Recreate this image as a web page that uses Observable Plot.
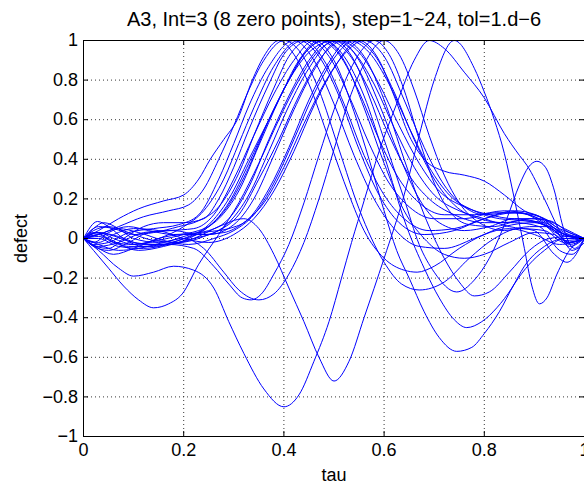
<!DOCTYPE html>
<html><head><meta charset="utf-8">
<script src="https://cdn.jsdelivr.net/npm/d3@7"></script>
<script src="https://cdn.jsdelivr.net/npm/@observablehq/plot@0.6"></script>
<style>body{margin:0;background:#fff}</style>
</head><body><div id="chart"></div>
<script>
const titleText = "A3, Int=3 (8 zero points), step=1~24, tol=1.d\u22126";
const xLabel = "tau";
const yLabel = "defect";
const xTicks = [0, 0.2, 0.4, 0.6, 0.8, 1];
const yTicks = [-1, -0.8, -0.6, -0.4, -0.2, 0, 0.2, 0.4, 0.6, 0.8, 1];

// each step: [tau, defect]
const step01 = [[0,0],[0.03,0.04],[0.07,0.1],[0.11,0.15],[0.16,0.19],[0.2,0.22],[0.23,0.3],[0.253,0.4],[0.28,0.5],[0.307,0.6],[0.337,0.8],[0.36,0.92],[0.39,1],[0.42,0.93],[0.45,0.78],[0.49,0.5],[0.53,0.22],[0.56,0.04],[0.6,-0.1],[0.64,-0.16],[0.666,-0.17],[0.7,-0.14],[0.75,-0.05],[0.8,0.02],[0.85,0.05],[0.9,0.02],[0.95,-0.03],[1,0]];
const step02 = [[0,0],[0.03,0.02],[0.07,0.06],[0.12,0.11],[0.17,0.14],[0.21,0.17],[0.24,0.25],[0.27,0.4],[0.3,0.57],[0.33,0.75],[0.36,0.9],[0.4,1],[0.43,0.95],[0.47,0.75],[0.51,0.45],[0.55,0.15],[0.6,-0.12],[0.635,-0.23],[0.67,-0.26],[0.72,-0.22],[0.77,-0.1],[0.82,0.0],[0.87,0.05],[0.92,0.04],[0.96,-0.02],[1,0]];
const step03 = [[0,0],[0.02,-0.03],[0.05,-0.02],[0.09,0.03],[0.14,0.05],[0.19,0.07],[0.23,0.12],[0.27,0.3],[0.3,0.48],[0.33,0.67],[0.37,0.87],[0.42,1],[0.46,0.9],[0.5,0.68],[0.54,0.42],[0.58,0.2],[0.62,0.05],[0.67,-0.04],[0.72,-0.05],[0.78,0.0],[0.84,0.06],[0.9,0.08],[0.95,0.03],[1,0]];
const step04 = [[0,0],[0.03,0.02],[0.06,-0.02],[0.1,-0.03],[0.15,0.0],[0.2,0.06],[0.24,0.14],[0.28,0.3],[0.31,0.48],[0.34,0.66],[0.38,0.87],[0.43,1],[0.47,0.92],[0.51,0.72],[0.55,0.45],[0.59,0.22],[0.63,0.08],[0.68,0.02],[0.74,0.04],[0.8,0.1],[0.86,0.13],[0.91,0.1],[0.96,0.02],[1,0]];
const step05 = [[0,0],[0.025,-0.04],[0.05,-0.05],[0.08,0.0],[0.12,0.06],[0.16,0.08],[0.2,0.08],[0.24,0.1],[0.27,0.2],[0.3,0.36],[0.33,0.55],[0.37,0.78],[0.4,0.93],[0.44,1],[0.48,0.9],[0.52,0.68],[0.56,0.42],[0.6,0.22],[0.64,0.1],[0.69,0.04],[0.74,0.05],[0.8,0.1],[0.86,0.14],[0.92,0.1],[0.96,0.03],[1,0]];
const step06 = [[0,0],[0.03,0.06],[0.06,0.05],[0.1,0.02],[0.14,0.03],[0.19,0.06],[0.23,0.09],[0.27,0.16],[0.31,0.33],[0.34,0.52],[0.38,0.76],[0.41,0.92],[0.45,1],[0.49,0.92],[0.53,0.72],[0.57,0.48],[0.61,0.28],[0.65,0.16],[0.7,0.1],[0.76,0.1],[0.82,0.13],[0.87,0.13],[0.92,0.07],[0.96,-0.01],[1,0]];
const step07 = [[0,0],[0.03,-0.04],[0.07,-0.02],[0.12,0.03],[0.17,0.04],[0.22,0.05],[0.26,0.12],[0.3,0.3],[0.34,0.52],[0.38,0.73],[0.42,0.9],[0.46,1],[0.5,0.9],[0.54,0.64],[0.57,0.4],[0.6,0.14],[0.625,-0.06],[0.65,-0.2],[0.68,-0.37],[0.71,-0.5],[0.745,-0.57],[0.775,-0.55],[0.8,-0.48],[0.83,-0.37],[0.86,-0.23],[0.89,-0.13],[0.92,-0.06],[0.96,0.0],[1,0]];
const step08 = [[0,0],[0.02,-0.02],[0.05,0.03],[0.09,0.06],[0.13,0.04],[0.18,0.02],[0.23,0.04],[0.27,0.1],[0.31,0.24],[0.35,0.47],[0.39,0.7],[0.43,0.9],[0.47,1],[0.51,0.93],[0.55,0.74],[0.59,0.5],[0.63,0.3],[0.67,0.18],[0.72,0.12],[0.78,0.12],[0.84,0.14],[0.89,0.12],[0.94,0.04],[0.97,-0.02],[1,0]];
const step09 = [[0,0],[0.03,0.01],[0.07,-0.03],[0.11,-0.06],[0.16,-0.04],[0.21,0.0],[0.25,0.06],[0.29,0.17],[0.33,0.36],[0.37,0.6],[0.41,0.8],[0.44,0.93],[0.48,1],[0.52,0.9],[0.56,0.66],[0.6,0.38],[0.64,0.14],[0.68,0.0],[0.72,-0.08],[0.76,-0.1],[0.8,-0.08],[0.85,-0.02],[0.9,0.03],[0.94,0.02],[0.97,-0.04],[1,0]];
const step10 = [[0,0],[0.02,0.03],[0.05,0.02],[0.1,-0.02],[0.15,-0.03],[0.2,0.0],[0.25,0.07],[0.29,0.2],[0.33,0.4],[0.37,0.6],[0.41,0.8],[0.44,0.93],[0.48,1],[0.52,0.92],[0.56,0.72],[0.6,0.42],[0.645,0.06],[0.68,-0.15],[0.71,-0.3],[0.74,-0.41],[0.765,-0.45],[0.795,-0.42],[0.825,-0.35],[0.855,-0.25],[0.88,-0.14],[0.92,-0.04],[0.96,0.0],[1,0]];
const step11 = [[0,0],[0.03,0.03],[0.06,0.0],[0.1,-0.03],[0.15,-0.01],[0.2,0.02],[0.25,0.04],[0.29,0.1],[0.33,0.26],[0.37,0.5],[0.41,0.72],[0.45,0.9],[0.49,1],[0.53,0.93],[0.57,0.75],[0.61,0.52],[0.65,0.32],[0.69,0.2],[0.74,0.12],[0.8,0.08],[0.86,0.08],[0.91,0.06],[0.95,-0.06],[0.975,-0.08],[1,0]];
const step12 = [[0,0],[0.02,0.05],[0.04,0.08],[0.07,0.05],[0.1,0.0],[0.15,-0.02],[0.2,0.01],[0.25,0.06],[0.29,0.18],[0.33,0.38],[0.37,0.6],[0.41,0.8],[0.45,0.94],[0.5,1],[0.54,0.9],[0.57,0.72],[0.6,0.5],[0.64,0.2],[0.67,-0.03],[0.7,-0.17],[0.745,-0.27],[0.78,-0.21],[0.81,-0.1],[0.845,0.1],[0.87,0.27],[0.888,0.36],[0.905,0.39],[0.922,0.36],[0.94,0.24],[0.957,0.06],[0.98,-0.05],[1,0]];
const step13 = [[0,0],[0.02,0.04],[0.05,0.06],[0.09,0.03],[0.14,-0.01],[0.19,-0.02],[0.24,0.01],[0.29,0.08],[0.33,0.22],[0.37,0.44],[0.41,0.67],[0.45,0.86],[0.5,1],[0.54,0.94],[0.58,0.78],[0.62,0.56],[0.66,0.36],[0.7,0.22],[0.75,0.14],[0.8,0.1],[0.85,0.06],[0.9,0.04],[0.94,-0.08],[0.965,-0.12],[1,0]];
const step14 = [[0,0],[0.02,-0.06],[0.05,-0.15],[0.08,-0.24],[0.11,-0.31],[0.14,-0.35],[0.17,-0.33],[0.197,-0.28],[0.23,-0.13],[0.27,0.02],[0.31,0.18],[0.35,0.38],[0.39,0.6],[0.43,0.8],[0.47,0.95],[0.51,1],[0.55,0.9],[0.59,0.68],[0.63,0.42],[0.67,0.2],[0.71,0.08],[0.76,0.04],[0.81,0.06],[0.86,0.1],[0.91,0.08],[0.95,0.02],[1,0]];
const step15 = [[0,0],[0.03,-0.05],[0.06,-0.08],[0.1,-0.05],[0.15,0.0],[0.2,0.02],[0.25,0.02],[0.3,0.07],[0.34,0.2],[0.38,0.42],[0.42,0.65],[0.46,0.85],[0.51,1],[0.55,0.94],[0.59,0.78],[0.63,0.57],[0.67,0.38],[0.71,0.24],[0.76,0.16],[0.81,0.12],[0.86,0.1],[0.91,0.1],[0.95,0.05],[1,0]];
const step16 = [[0,0],[0.03,0.0],[0.07,-0.04],[0.12,-0.05],[0.17,-0.03],[0.22,0.0],[0.27,0.04],[0.31,0.12],[0.35,0.3],[0.39,0.5],[0.43,0.72],[0.47,0.9],[0.52,1],[0.56,0.92],[0.6,0.7],[0.64,0.4],[0.68,0.12],[0.72,-0.1],[0.75,-0.22],[0.78,-0.29],[0.81,-0.27],[0.85,-0.17],[0.89,-0.06],[0.93,0.0],[0.97,0.01],[1,0]];
const step17 = [[0,0],[0.025,0.03],[0.05,0.0],[0.09,-0.04],[0.14,-0.04],[0.19,-0.01],[0.24,0.03],[0.29,0.05],[0.33,0.1],[0.37,0.25],[0.41,0.46],[0.45,0.7],[0.49,0.89],[0.53,1],[0.57,0.94],[0.61,0.78],[0.65,0.56],[0.69,0.36],[0.73,0.22],[0.78,0.14],[0.83,0.1],[0.88,0.09],[0.93,0.06],[0.97,-0.02],[1,0]];
const step18 = [[0,0],[0.03,0.02],[0.07,0.05],[0.11,0.03],[0.16,-0.01],[0.21,-0.03],[0.26,0.0],[0.3,0.04],[0.34,0.12],[0.38,0.28],[0.42,0.5],[0.46,0.73],[0.5,0.91],[0.54,1],[0.58,0.93],[0.62,0.74],[0.66,0.5],[0.7,0.3],[0.74,0.17],[0.79,0.1],[0.84,0.08],[0.89,0.1],[0.93,0.09],[0.97,0.03],[1,0]];
const step19 = [[0,0],[0.03,-0.02],[0.06,0.02],[0.1,0.05],[0.15,0.04],[0.2,0.0],[0.25,-0.02],[0.3,0.02],[0.34,0.1],[0.38,0.24],[0.42,0.44],[0.46,0.67],[0.5,0.86],[0.55,1],[0.59,0.9],[0.62,0.72],[0.65,0.52],[0.68,0.4],[0.72,0.34],[0.76,0.32],[0.8,0.29],[0.84,0.22],[0.88,0.14],[0.92,0.1],[0.96,0.05],[1,0]];
const step20 = [[0,0],[0.02,-0.04],[0.05,-0.06],[0.09,-0.02],[0.13,0.03],[0.18,0.04],[0.23,0.02],[0.28,0.03],[0.32,0.08],[0.36,0.18],[0.4,0.36],[0.44,0.58],[0.48,0.78],[0.52,0.93],[0.56,1],[0.6,0.92],[0.64,0.7],[0.68,0.46],[0.72,0.27],[0.76,0.16],[0.8,0.12],[0.85,0.13],[0.9,0.12],[0.94,0.05],[0.97,-0.03],[1,0]];
const step21 = [[0,0],[0.028,0.086],[0.05,0.06],[0.08,0.0],[0.12,-0.04],[0.17,-0.03],[0.22,-0.05],[0.26,-0.14],[0.29,-0.23],[0.317,-0.3],[0.335,-0.31],[0.355,-0.28],[0.38,-0.18],[0.41,-0.03],[0.44,0.18],[0.47,0.42],[0.5,0.65],[0.53,0.84],[0.555,0.95],[0.58,1],[0.61,0.93],[0.64,0.75],[0.67,0.5],[0.7,0.28],[0.73,0.14],[0.77,0.07],[0.82,0.06],[0.87,0.09],[0.92,0.08],[0.96,0.02],[1,0]];
const step22 = [[0,0],[0.03,-0.03],[0.07,-0.06],[0.11,-0.05],[0.16,-0.02],[0.2,0.0],[0.24,-0.05],[0.28,-0.17],[0.31,-0.26],[0.35,-0.31],[0.38,-0.28],[0.41,-0.18],[0.44,-0.02],[0.47,0.2],[0.5,0.45],[0.53,0.7],[0.56,0.88],[0.6,1],[0.63,0.93],[0.66,0.75],[0.69,0.52],[0.72,0.32],[0.75,0.18],[0.79,0.08],[0.84,0.04],[0.89,0.06],[0.93,0.06],[0.97,0.01],[1,0]];
const step23 = [[0,0],[0.03,-0.06],[0.07,-0.15],[0.1,-0.19],[0.14,-0.17],[0.18,-0.14],[0.22,-0.16],[0.26,-0.25],[0.29,-0.42],[0.32,-0.58],[0.36,-0.76],[0.4,-0.85],[0.43,-0.79],[0.46,-0.62],[0.49,-0.42],[0.515,-0.2],[0.535,-0.02],[0.56,0.19],[0.59,0.44],[0.625,0.68],[0.66,0.9],[0.69,1],[0.72,0.96],[0.76,0.84],[0.8,0.71],[0.84,0.53],[0.87,0.42],[0.885,0.37],[0.92,0.2],[0.95,0.04],[0.975,-0.06],[1,-0.02]];
const step24 = [[0,0],[0.03,0.03],[0.07,0.01],[0.12,-0.03],[0.17,-0.03],[0.22,0.0],[0.27,0.06],[0.32,0.1],[0.35,0.05],[0.38,-0.08],[0.41,-0.25],[0.44,-0.42],[0.47,-0.6],[0.5,-0.72],[0.53,-0.62],[0.56,-0.4],[0.6,-0.1],[0.64,0.22],[0.67,0.52],[0.7,0.8],[0.74,1],[0.78,0.86],[0.8,0.74],[0.82,0.6],[0.84,0.43],[0.86,0.2],[0.88,-0.05],[0.895,-0.24],[0.91,-0.33],[0.925,-0.3],[0.945,-0.18],[0.97,-0.06],[1,0]];

const steps = [step01, step02, step03, step04, step05, step06, step07, step08, step09, step10, step11, step12,
               step13, step14, step15, step16, step17, step18, step19, step20, step21, step22, step23, step24];
const rows = steps.flatMap((pts, i) => pts.map(([tau, defect]) => ({step: i + 1, tau, defect})));

const fmt = d => (d < 0 ? "\u2212" : "") + String(Math.abs(d));

const chart = Plot.plot({
  width: 584, height: 487,
  marginLeft: 83, marginRight: 0, marginTop: 40, marginBottom: 51,
  style: {fontFamily: "'Liberation Sans', Arial, sans-serif", fontSize: "18px", background: "#fff", color: "#000", overflow: "visible"},
  x: {domain: [0, 1]},
  y: {domain: [-1, 1]},
  marks: [
    Plot.gridX({ticks: xTicks.slice(1, -1), stroke: "#222", strokeOpacity: 0.9, strokeDasharray: "1,3"}),
    Plot.gridY({ticks: yTicks.slice(1, -1), stroke: "#222", strokeOpacity: 0.9, strokeDasharray: "1,3"}),
    Plot.line(rows, {x: "tau", y: "defect", z: "step", stroke: "#0000ff", strokeWidth: 1, curve: "monotone-x"}),
    Plot.ruleX(xTicks, {x: d => d, stroke: "#000", insetTop: 391}),
    Plot.ruleX(xTicks, {x: d => d, stroke: "#000", insetBottom: 391}),
    Plot.ruleY(yTicks, {y: d => d, stroke: "#000", insetRight: 496}),
    Plot.ruleY(yTicks, {y: d => d, stroke: "#000", insetLeft: 496}),
    Plot.ruleX([0], {stroke: "#000"}),
    Plot.ruleY([-1, 1], {stroke: "#000"}),
    Plot.axisX({ticks: xTicks, tickSize: 0, tickPadding: 7, fontSize: 18, tickFormat: fmt, label: null}),
    Plot.axisY({ticks: yTicks, tickSize: 0, tickPadding: 5.5, fontSize: 18, tickFormat: fmt, label: null}),
    Plot.text([titleText], {text: d => d, frameAnchor: "top", lineAnchor: "middle", textAnchor: "middle", dy: -20.5, fontSize: 20}),
    Plot.text([xLabel], {text: d => d, frameAnchor: "bottom", lineAnchor: "middle", textAnchor: "middle", dy: 39, fontSize: 18}),
    Plot.text([yLabel], {text: d => d, frameAnchor: "left", lineAnchor: "middle", textAnchor: "middle", dx: -62, rotate: -90, fontSize: 18})
  ]
});
document.getElementById("chart").appendChild(chart);
</script>
</body></html>
